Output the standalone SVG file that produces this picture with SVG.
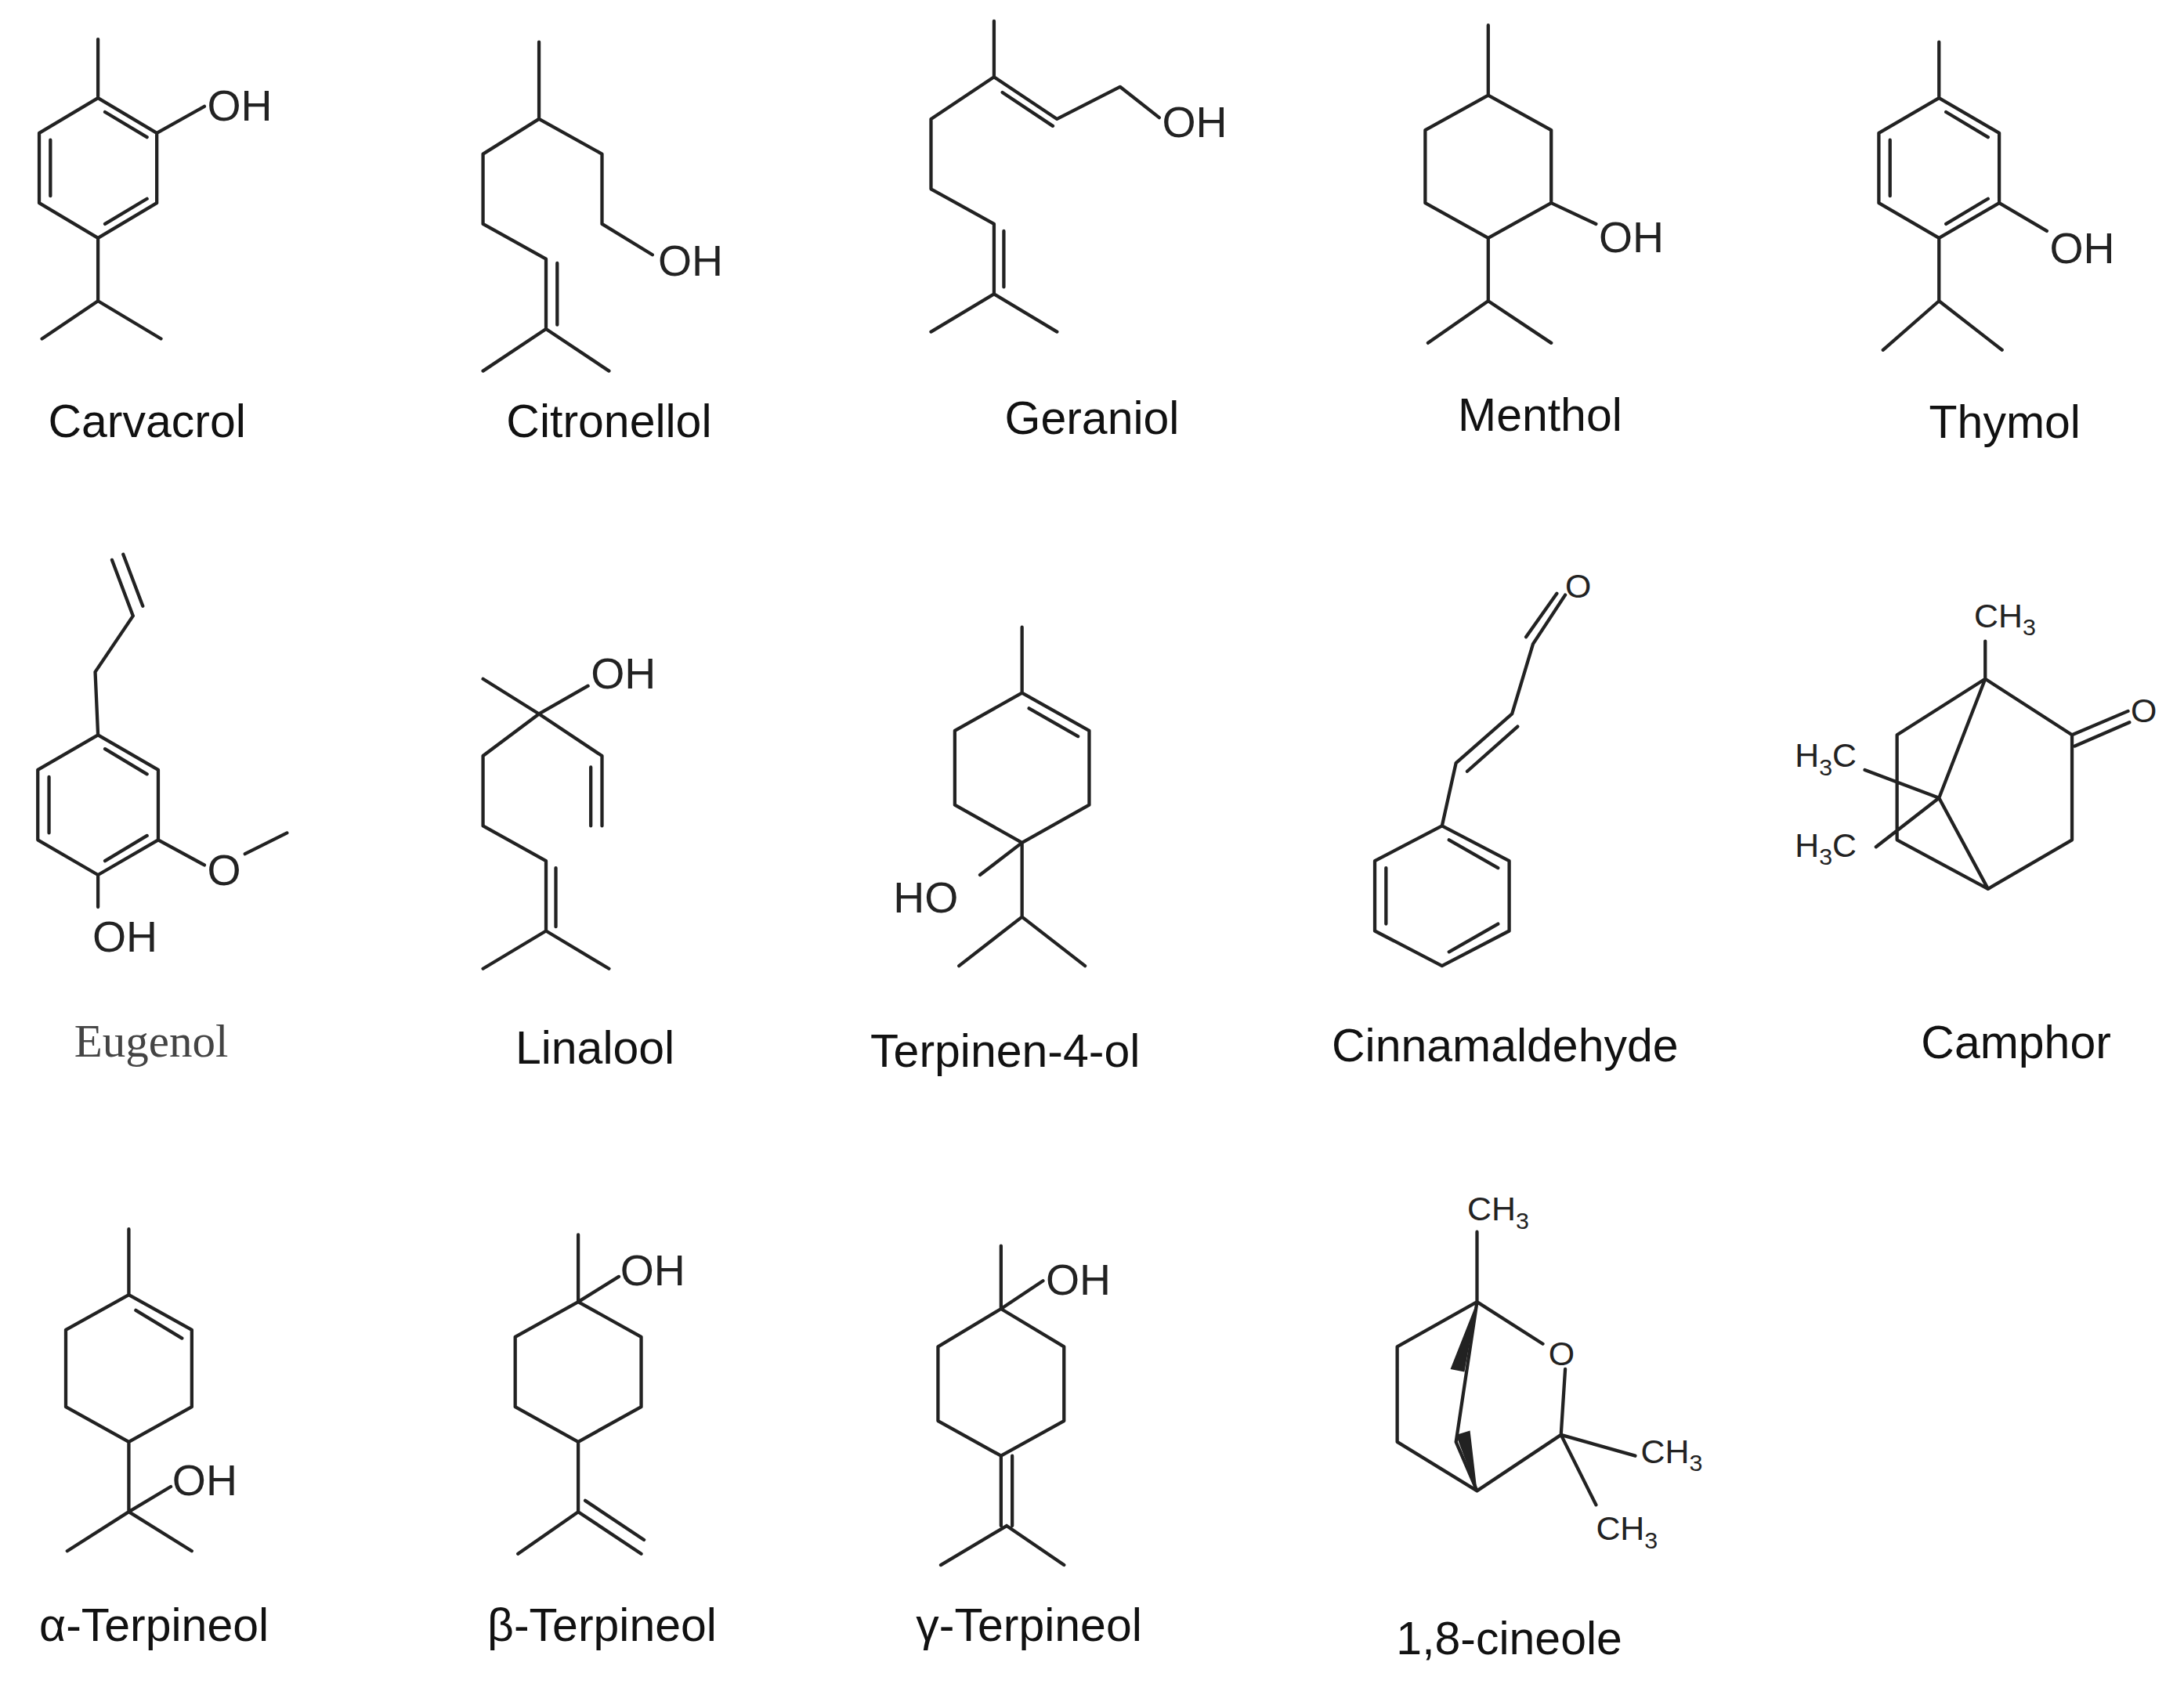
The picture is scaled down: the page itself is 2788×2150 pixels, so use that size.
<svg xmlns="http://www.w3.org/2000/svg" width="2788" height="2150" viewBox="0 0 2788 2150">
<style>
.b{stroke:#222;stroke-width:2.4;fill:none;stroke-linecap:round;stroke-linejoin:round}
.t{font-family:"Liberation Sans",Arial,sans-serif;font-size:31px;fill:#222}
.lb{font-family:"Liberation Sans",Arial,sans-serif;font-size:33px;fill:#111;text-anchor:middle}
.s{font-family:"Liberation Sans",Arial,sans-serif;font-size:24px;fill:#222}
</style>
<rect width="2788" height="2150" fill="#fff"/>
<g transform="scale(1.7872)">
<g id="carvacrol">
<path class="b" d="M70 28V70 M70 70L112 95V145L70 170L28 145V95Z M36 100V140 M75 160L105 142 M75 80L105 98 M112 95L146 76 M70 170V215L30 242 M70 215L115 242"/>
<text class="t" x="148" y="86">OH</text><text class="lb" x="105" y="312">Carvacrol</text></g>
<g id="citronellol">
<path class="b" d="M385 30V85L345 110V160L390 185V235L345 265 M390 235L435 265 M398 188V232 M385 85L430 110V160L466 182"/>
<text class="t" x="470" y="197">OH</text><text class="lb" x="435" y="312">Citronellol</text></g>
<g id="geraniol">
<path class="b" d="M710 15V55L755 85L800 62L828 84 M716 66L752 90 M710 55L665 85V135L710 160V210L665 237 M710 210L755 237 M717 165V205"/>
<text class="t" x="830" y="98">OH</text><text class="lb" x="780" y="310">Geraniol</text></g>
<g id="menthol">
<path class="b" d="M1063 18V68 M1063 68L1108 93V145L1063 170L1018 145V93Z M1108 145L1140 160 M1063 170V215L1020 245 M1063 215L1108 245"/>
<text class="t" x="1142" y="180">OH</text><text class="lb" x="1100" y="308">Menthol</text></g>
<g id="thymol">
<path class="b" d="M1385 30V70 M1385 70L1428 95V145L1385 170L1342 145V95Z M1350 100V140 M1390 160L1420 142 M1390 80L1420 98 M1428 145L1462 165 M1385 170V215L1345 250 M1385 215L1430 250"/>
<text class="t" x="1464" y="188">OH</text><text class="lb" x="1432" y="313">Thymol</text></g>

<g id="eugenol">
<path class="b" d="M80 400L95 440 M88 396L102 433 M95 440L68 480L70 525 M70 525L113 550V600L70 625L27 600V550Z M35 555V595 M75 615L105 597 M75 535L105 553 M113 600L146 618 M175 610L205 595 M70 625V648"/>
<text class="t" x="148" y="632">O</text><text class="t" x="66" y="680">OH</text>
<text x="108" y="755" style="font-family:'Liberation Serif',serif;font-size:33px;fill:#444;text-anchor:middle">Eugenol</text></g>
<g id="linalool">
<path class="b" d="M345 485L385 510L420 490 M385 510L430 540V590 M422 548V590 M385 510L345 540V590L390 615V665L345 692 M390 665L435 692 M397 620V662"/>
<text class="t" x="422" y="492">OH</text><text class="lb" x="425" y="760">Linalool</text></g>
<g id="terpinen4ol">
<path class="b" d="M730 448V495 M730 495L778 522V575L730 602L682 575V522Z M735 506L770 526 M730 602L700 625 M730 602V655L685 690 M730 655L775 690"/>
<text class="t" x="638" y="652">HO</text><text class="lb" x="718" y="762">Terpinen-4-ol</text></g>
<g id="cinnamaldehyde">
<path class="b" d="M1030 590L1078 615V665L1030 690L982 665V615Z M990 620V660 M1035 680L1070 660 M1035 600L1070 620 M1030 590L1040 545L1080 510L1095 460L1118 425 M1048 551L1084 519 M1090 455L1112 424"/>
<text class="s" x="1118" y="427">O</text><text class="lb" x="1075" y="758">Cinnamaldehyde</text></g>
<g id="camphor">
<path class="b" d="M1418 458V485L1480 525L1520 508 M1482 533L1521 516 M1480 525V600L1420 635L1355 600V525L1418 485L1385 570L1420 635 M1332 550L1385 570L1340 605"/>
<text class="s" x="1410" y="448">CH<tspan font-size="17" dy="6">3</tspan></text>
<text class="s" x="1522" y="516">O</text>
<text class="s" x="1282" y="548">H<tspan font-size="17" dy="6">3</tspan><tspan dy="-6">C</tspan></text>
<text class="s" x="1282" y="612">H<tspan font-size="17" dy="6">3</tspan><tspan dy="-6">C</tspan></text>
<text class="lb" x="1440" y="756">Camphor</text></g>

<g id="aterpineol">
<path class="b" d="M92 878V925 M92 925L137 950V1005L92 1030L47 1005V950Z M97 936L130 956 M92 1030V1080L48 1108 M92 1080L137 1108 M92 1080L122 1062"/>
<text class="t" x="123" y="1068">OH</text><text class="lb" x="110" y="1172">α-Terpineol</text></g>
<g id="bterpineol">
<path class="b" d="M413 882V930 M413 930L458 955V1005L413 1030L368 1005V955Z M413 930L442 912 M413 1030V1080L370 1110 M413 1080L458 1110 M418 1072L460 1100"/>
<text class="t" x="443" y="918">OH</text><text class="lb" x="430" y="1172">β-Terpineol</text></g>
<g id="gterpineol">
<path class="b" d="M715 890V935 M715 935L760 962V1015L715 1040L670 1015V962Z M715 935L745 915 M715 1040V1090 M723 1040V1090 M719 1090L672 1118 M719 1090L760 1118"/>
<text class="t" x="747" y="925">OH</text><text class="lb" x="735" y="1172">γ-Terpineol</text></g>
<g id="cineole">
<path class="b" d="M1055 880V930L998 962V1030L1055 1065 M1055 930L1102 960 M1118 978L1115 1025L1055 1065 M1115 1025L1168 1040 M1115 1025L1140 1075 M1055 930L1040 1030L1055 1065"/>
<path d="M1055 930L1036 978L1046 980Z M1055 1065L1040 1025L1050 1022Z" fill="#222"/>
<text class="s" x="1106" y="975">O</text>
<text class="s" x="1048" y="872">CH<tspan font-size="17" dy="6">3</tspan></text>
<text class="s" x="1172" y="1045">CH<tspan font-size="17" dy="6">3</tspan></text>
<text class="s" x="1140" y="1100">CH<tspan font-size="17" dy="6">3</tspan></text>
<text class="lb" x="1078" y="1182">1,8-cineole</text></g>
</g>
</svg>
